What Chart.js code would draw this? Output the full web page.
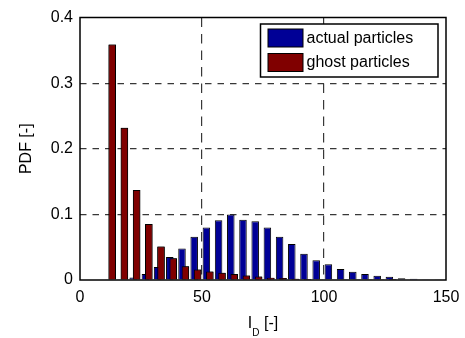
<!DOCTYPE html>
<html>
<head>
<meta charset="utf-8">
<script src="https://cdn.jsdelivr.net/npm/chart.js@4"></script>
<style>
  html, body { margin: 0; padding: 0; background: #fff; }
  #wrap { width: 465px; height: 338px; }
</style>
</head>
<body>
<div id="wrap"><canvas id="pdf" width="465" height="338"></canvas></div>
<script>
// bin centres of the histogram (I_D)
var binCenters = [12.5, 17.5, 22.5, 27.5, 32.5, 37.5, 42.5, 47.5, 52.5, 57.5,
  62.5, 67.5, 72.5, 77.5, 82.5, 87.5, 92.5, 97.5, 102.5, 107.5,
  112.5, 117.5, 122.5, 127.5, 132.5, 137.5, 142.5, 147.5];
var actualPdf = [0.0005, 0.001, 0.004, 0.009, 0.020, 0.035, 0.048, 0.066, 0.080, 0.091,
  0.100, 0.092, 0.0895, 0.080, 0.066, 0.055, 0.040, 0.030, 0.024, 0.0168,
  0.0127, 0.009, 0.0066, 0.005, 0.0025, 0.002, 0.001, 0.0005];
var ghostPdf = [0.359, 0.232, 0.137, 0.0855, 0.051, 0.033, 0.021, 0.016, 0.013, 0.011,
  0.009, 0.007, 0.0055, 0.0036, 0.003, 0.002, 0.0015, 0.001, 0.0007, 0.0005,
  0.0004, 0.0003, 0.0002, 0.0001, 0, 0, 0, 0];
var seriesNames = ['actual particles', 'ghost particles'];
var seriesColors = ['#000096', '#800000'];
var xTicks = [0, 50, 100, 150];
var yTicks = [0, 0.1, 0.2, 0.3, 0.4];

var FONT = 'Liberation Sans, Arial, Helvetica, sans-serif';

function pts(vals) {
  return vals.map(function (v, i) { return { x: binCenters[i], y: v }; });
}

// ghost bars sit on top of the actual ones, as in the original
var ghostOnTop = {
  id: 'ghostOnTop',
  afterDatasetsDraw: function (chart) {
    var a = chart.chartArea, ctx = chart.ctx;
    ctx.save();
    ctx.beginPath();
    ctx.rect(a.left, a.top, a.right - a.left, a.bottom - a.top);
    ctx.clip();
    chart.getDatasetMeta(1).controller.draw();
    ctx.restore();
  }
};

var boxAndLegend = {
  id: 'boxAndLegend',
  afterDraw: function (chart) {
    var a = chart.chartArea, ctx = chart.ctx;
    ctx.save();
    // axes box
    ctx.strokeStyle = '#000';
    ctx.lineWidth = 1.5;
    ctx.strokeRect(a.left, a.top, a.right - a.left, a.bottom - a.top);

    // legend
    var bx = a.right - 185.5, by = a.top + 6.5, bw = 177.5, bh = 53;
    ctx.fillStyle = '#fff';
    ctx.fillRect(bx, by, bw, bh);
    ctx.lineWidth = 1.5;
    ctx.strokeRect(bx, by, bw, bh);
    ctx.font = '16px ' + FONT;
    ctx.textBaseline = 'middle';
    ctx.textAlign = 'left';
    for (var i = 0; i < seriesNames.length; i++) {
      var sy = by + 5 + i * 24.5;
      ctx.fillStyle = seriesColors[i];
      ctx.fillRect(bx + 7.5, sy, 35, 18);
      ctx.lineWidth = 1;
      ctx.strokeStyle = '#000';
      ctx.strokeRect(bx + 7.5, sy, 35, 18);
      ctx.fillStyle = '#000';
      ctx.fillText(seriesNames[i], bx + 46, sy + 9.5);
    }

    // x axis title with subscript
    var cx = (a.left + a.right) / 2, ty = 324;
    ctx.font = '16px ' + FONT;
    var w1 = ctx.measureText('I').width;
    var w3 = ctx.measureText(' [-]').width;
    ctx.font = '10px ' + FONT;
    var w2 = ctx.measureText('D').width;
    var x0 = cx - (w1 + w2 + w3) / 2;
    ctx.fillStyle = '#000';
    ctx.font = '16px ' + FONT;
    ctx.fillText('I', x0, ty);
    ctx.font = '10px ' + FONT;
    ctx.fillText('D', x0 + w1, ty + 9);
    ctx.font = '16px ' + FONT;
    ctx.fillText(' [-]', x0 + w1 + w2, ty);
    ctx.restore();
  }
};

function gridColor(ctx) {
  var t = ctx.tick;
  if (!t) return 'rgba(0,0,0,0)';
  var s = ctx.scale;
  if (t.value === s.min || t.value === s.max) return 'rgba(0,0,0,0)';
  return '#383838';
}

new Chart(document.getElementById('pdf'), {
  type: 'bar',
  data: {
    datasets: [
      {
        label: seriesNames[0],
        data: pts(actualPdf),
        backgroundColor: seriesColors[0],
        borderColor: '#000',
        borderWidth: 1,
        categoryPercentage: 0.56,
        barPercentage: 2.2
      },
      {
        label: seriesNames[1],
        data: pts(ghostPdf),
        backgroundColor: seriesColors[1],
        borderColor: '#000',
        borderWidth: 1,
        categoryPercentage: 0.56,
        barPercentage: 2.2
      }
    ]
  },
  options: {
    responsive: false,
    devicePixelRatio: 1,
    animation: false,
    layout: { padding: { top: 17.5, right: 19, left: 0, bottom: 0 } },
    plugins: {
      legend: { display: false },
      tooltip: { enabled: false }
    },
    scales: {
      x: {
        type: 'linear',
        min: 0,
        max: 150,
        offset: false,
        afterBuildTicks: function (s) { s.ticks = xTicks.map(function (v) { return { value: v }; }); },
        afterFit: function (s) { s.height = 58; s.paddingLeft = 0; s.paddingRight = 0; },
        grid: { color: gridColor, lineWidth: 1.2, drawTicks: false, offset: false },
        border: { display: false, dash: [9.5, 7] },
        ticks: { color: '#000', font: { family: FONT, size: 16 }, padding: 8, maxRotation: 0 }
      },
      y: {
        min: 0,
        max: 0.4,
        afterBuildTicks: function (s) { s.ticks = yTicks.map(function (v) { return { value: v }; }); },
        afterFit: function (s) { s.width = 80; s.paddingTop = 0; s.paddingBottom = 0; },
        grid: { color: gridColor, lineWidth: 1.2, drawTicks: false },
        border: { display: false, dash: [6.5, 6] },
        ticks: { color: '#000', font: { family: FONT, size: 16 }, padding: 7 },
        title: {
          display: true,
          text: 'PDF [-]',
          color: '#000',
          font: { family: FONT, size: 16 },
          padding: { top: 17, bottom: 0 }
        }
      }
    }
  },
  plugins: [ghostOnTop, boxAndLegend]
});
</script>
</body>
</html>
